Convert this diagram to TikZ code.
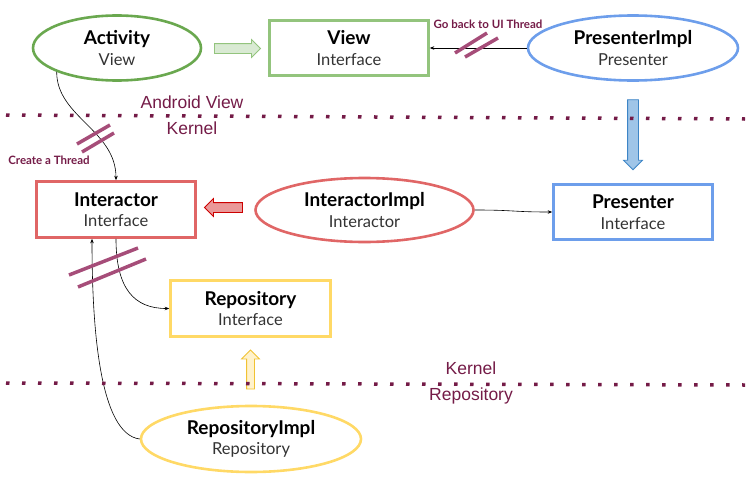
\documentclass[tikz,border=0pt]{standalone}
\usepackage{fontspec}
\setmainfont{Lato}
\newfontfamily\labelfont{Liberation Sans}
\usetikzlibrary{shapes.geometric,shapes.arrows,arrows.meta}
\definecolor{vgreen}{HTML}{6AA84F}
\definecolor{vgreenl}{HTML}{93C47D}
\definecolor{vgreenf}{HTML}{D9EAD3}
\definecolor{vblue}{HTML}{6D9EEB}
\definecolor{vbluef}{HTML}{9FC5E8}
\definecolor{vblued}{HTML}{3D85C6}
\definecolor{vred}{HTML}{E06666}
\definecolor{vredf}{HTML}{EA9999}
\definecolor{vredd}{HTML}{CC0000}
\definecolor{vyellow}{HTML}{FFD966}
\definecolor{vyellowf}{HTML}{FFF2CC}
\definecolor{vyellowd}{HTML}{F1C232}
\definecolor{plum}{HTML}{741B47}
\definecolor{plumcut}{HTML}{A64D79}
\definecolor{subtxt}{HTML}{333333}
\newcommand\twoline[2]{{\fontsize{19}{21}\selectfont\bfseries #1}\\{\color{subtxt}#2}}
\tikzset{
  impl/.style={ellipse, line width=2.6pt, inner sep=0pt, align=center, font=\fontsize{16.5}{20.5}\selectfont},
  iface/.style={rectangle, line width=2.6pt, inner sep=0pt, align=center, font=\fontsize{16.5}{20.5}\selectfont},
  blockarrow/.style={single arrow, line width=0.8pt, inner sep=0pt, single arrow head extend=4pt},
  link/.style={black, line width=0.6pt, -{Stealth[length=4.5pt,width=3.5pt]}},
  cut/.style={plumcut, line width=3.5pt},
  sep/.style={plum, line width=3.5pt, dash pattern=on 3.5pt off 12.5pt},
  lay/.style={plum, font=\labelfont\fontsize{17.5}{20}\selectfont},
  note/.style={plum, font=\bfseries\fontsize{11.5}{13}\selectfont}
}
\begin{document}
\begin{tikzpicture}[x=1pt,y=-1pt]
\useasboundingbox (0,0) rectangle (750,482);
\node[impl, draw=vgreen, minimum width=168pt, minimum height=65pt] (act) at (117,48) {\twoline{Activity}{View}};
\node[iface, draw=vgreenl, minimum width=159pt, minimum height=55pt] (view) at (349,48) {\twoline{View}{Interface}};
\node[impl, draw=vblue, minimum width=210pt, minimum height=65pt] (pimpl) at (633,48) {\twoline{PresenterImpl}{Presenter}};
\node[iface, draw=vred, minimum width=159pt, minimum height=56pt] (int) at (116,209.5) {\twoline{Interactor}{Interface}};
\node[impl, draw=vred, minimum width=218pt, minimum height=64pt] (iimpl) at (364.5,210) {\twoline{InteractorImpl}{Interactor}};
\node[iface, draw=vblue, minimum width=159pt, minimum height=55pt] (pres) at (633,212) {\twoline{Presenter}{Interface}};
\node[iface, draw=vyellow, minimum width=160pt, minimum height=56pt] (repo) at (250.5,308.5) {\twoline{Repository}{Interface}};
\node[impl, draw=vyellow, minimum width=220pt, minimum height=66pt] (rimpl) at (251,439) {\twoline{RepositoryImpl}{Repository}};

\node[blockarrow, draw=vgreenl, fill=vgreenf, minimum height=46pt, inner ysep=4.5pt] (garrow) at (235,48.5) {};
\node[blockarrow, draw=vredd, fill=vredf, minimum height=38pt, inner ysep=4.5pt, shape border rotate=180] (rarrow) at (226,207.5) {};
\node[blockarrow, draw=vblued, fill=vbluef, minimum height=70pt, inner xsep=5pt, shape border rotate=270] (barrow) at (633,132) {};
\node[blockarrow, draw=vyellowd, fill=vyellowf, minimum height=39pt, inner xsep=3.5pt, shape border rotate=90, single arrow head extend=5pt] (yarrow) at (250.5,371.5) {};

\draw[link] (act.south west) .. controls +(0,45) and +(0,-50) .. (int.north);
\draw[link] (pimpl.west) -- (view.east);
\draw[link] (iimpl.east) .. controls +(40,0) and +(-40,0) .. (pres.west);
\draw[link] (int.south) .. controls +(0,50) and +(-35,0) .. (repo.west);
\draw[link] (rimpl.west) .. controls +(-40,-5) and +(0,90) .. ([xshift=-24pt]int.south);

\draw[cut] (455,53) -- (487,33);
\draw[cut] (465,57) -- (498,38);
\draw[cut] (77,144) -- (110,125);
\draw[cut] (82,152) -- (114,133);
\draw[cut] (69,275) -- (138,248);
\draw[cut] (78,287) -- (146,259);

\draw[sep] (6,115) -- (745,119);
\draw[sep] (6,383) -- (745,385);

\node[lay] (avlbl) at (192,102) {Android View};
\node[lay] (kvlbl) at (192,128) {Kernel};
\node[lay] (krlbl) at (471,368) {Kernel};
\node[lay] (rrlbl) at (471,396) {Repository};
\node[note] (thrlbl) at (49,160) {Create a Thread};
\node[note] (uilbl) at (488,24) {Go back to UI Thread};
\end{tikzpicture}
\end{document}
